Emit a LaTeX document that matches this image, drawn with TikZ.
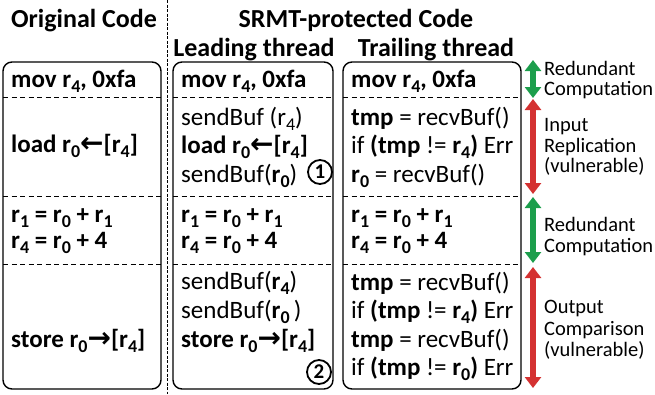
\documentclass[tikz,border=0pt]{standalone}
\usepackage{fontspec}
\setmainfont{Carlito}
\newfontfamily\dejavu{DejaVu Sans}
\usetikzlibrary{arrows.meta}
\definecolor{grn}{RGB}{28,158,76}
\definecolor{rd}{RGB}{212,50,50}
\newcommand\sbs[1]{\raisebox{-0.22em}{\scalebox{0.72}{#1}}}
\newcommand\larr{{\dejavu\bfseries\fontsize{28}{28}\selectfont ←}}
\newcommand\rarr{{\dejavu\bfseries\fontsize{28}{28}\selectfont →}}
\tikzset{
  code/.style={anchor=base west, inner sep=0pt, font=\fontsize{25}{28}\selectfont},
  cb/.style={anchor=base west, inner sep=0pt, font=\fontsize{25}{28}\selectfont\bfseries},
  lab/.style={anchor=base west, inner sep=0pt, font=\fontsize{20.5}{22}\selectfont},
  ttl/.style={anchor=base, inner sep=0pt, font=\fontsize{26}{28}\selectfont\bfseries},
  box/.style={draw, line width=1.4pt, rounded corners=9pt},
  sepl/.style={dash pattern=on 5pt off 3.5pt, line width=0.9pt},
  dbl/.style={line width=6pt, {Triangle[width=16pt,length=11pt]}-{Triangle[width=16pt,length=11pt]}},
  circ/.style={draw, circle, line width=1.8pt, inner sep=0pt, minimum size=24pt, font=\fontsize{21}{22}\selectfont\bfseries}
}
\begin{document}
\begin{tikzpicture}[x=1pt,y=-1pt]
\useasboundingbox (0,0) rectangle (655,394);
% titles
\node[ttl] (t1) at (84,27) {Original Code};
\node[ttl] (t2) at (356,27) {SRMT-protected Code};
\node[ttl] (t3) at (254,56) {Leading thread};
\node[ttl] (t4) at (436,56) {Trailing thread};
% vertical separator
\coordinate (vs1) at (167,0);
\coordinate (vs2) at (167,394);
\draw[dash pattern=on 3pt off 1.5pt, line width=0.8pt] (vs1) -- (vs2);
% boxes
\draw[box] (3,62) rectangle (161,389);
\draw[box] (173,62) rectangle (333,389);
\draw[box] (343,62) rectangle (521,389);
% dashed separators
\foreach \y in {97,196,264}{
  \draw[sepl] (3,\y) -- (161,\y);
  \draw[sepl] (173,\y) -- (333,\y);
  \draw[sepl] (343,\y) -- (521,\y);
}
% column 1
\node[cb] (a1) at (11,87) {mov r\sbs{4}, 0xfa};
\node[cb] (a2) at (11,152) {load r\sbs{0}\larr[r\sbs{4}]};
\node[cb] (a3) at (11,222) {r\sbs{1} = r\sbs{0} + r\sbs{1}};
\node[cb] (a4) at (11,248) {r\sbs{4} = r\sbs{0} + 4};
\node[cb] (a5) at (11,347) {store r\sbs{0}\rarr[r\sbs{4}]};
% column 2
\node[cb] (b1) at (181,87) {mov r\sbs{4}, 0xfa};
\node[code] (b2) at (181,125) {sendBuf (r\sbs{4})};
\node[cb] (b3) at (181,153) {load r\sbs{0}\larr[r\sbs{4}]};
\node[code] (b4) at (181,182) {sendBuf(\textbf{r\sbs{0}})};
\node[circ] (c1) at (320,172) {1};
\node[cb] (b5) at (181,222) {r\sbs{1} = r\sbs{0} + r\sbs{1}};
\node[cb] (b6) at (181,248) {r\sbs{4} = r\sbs{0} + 4};
\node[code] (b7) at (181,289) {sendBuf(\textbf{r\sbs{4}})};
\node[code] (b8) at (181,318) {sendBuf(\textbf{r\sbs{0}}\,)};
\node[cb] (b9) at (181,347) {store r\sbs{0}\rarr[r\sbs{4}]};
\node[circ] (c2) at (319,372) {2};
% column 3
\node[cb] (d1) at (351,87) {mov r\sbs{4}, 0xfa};
\node[code] (d2) at (351,125) {\textbf{tmp} = recvBuf()};
\node[code] (d3) at (351,153) {if \textbf{(tmp} != \textbf{r\sbs{4})} Err};
\node[code] (d4) at (351,182) {\textbf{r\sbs{0}} = recvBuf()};
\node[cb] (d5) at (351,222) {r\sbs{1} = r\sbs{0} + r\sbs{1}};
\node[cb] (d6) at (351,248) {r\sbs{4} = r\sbs{0} + 4};
\node[code] (d7) at (351,290) {\textbf{tmp} = recvBuf()};
\node[code] (d8) at (351,318) {if \textbf{(tmp} != \textbf{r\sbs{4})} Err};
\node[code] (d9) at (351,347) {\textbf{tmp} = recvBuf()};
\node[code] (d10) at (351,375) {if \textbf{(tmp} != \textbf{r\sbs{0})} Err};
% arrows
\coordinate (g1a) at (533,60); \coordinate (g1b) at (533,98);
\coordinate (r1a) at (533,99); \coordinate (r1b) at (533,194);
\coordinate (g2a) at (533,197); \coordinate (g2b) at (533,263);
\coordinate (r2a) at (533,267); \coordinate (r2b) at (533,388);
\draw[dbl, grn] (g1a) -- (g1b);
\draw[dbl, rd] (r1a) -- (r1b);
\draw[dbl, grn] (g2a) -- (g2b);
\draw[dbl, rd] (r2a) -- (r2b);
% labels
\node[lab] (l1) at (544,75) {Redundant};
\node[lab] (l2) at (544,95) {Computation};
\node[lab] (l3) at (544,131) {Input};
\node[lab] (l4) at (544,152) {Replication};
\node[lab] (l5) at (544,172) {(vulnerable)};
\node[lab] (l6) at (544,231) {Redundant};
\node[lab] (l7) at (544,252) {Computation};
\node[lab] (l8) at (544,313) {Output};
\node[lab] (l9) at (544,335) {Comparison};
\node[lab] (l10) at (544,356) {(vulnerable)};
\end{tikzpicture}
\end{document}
